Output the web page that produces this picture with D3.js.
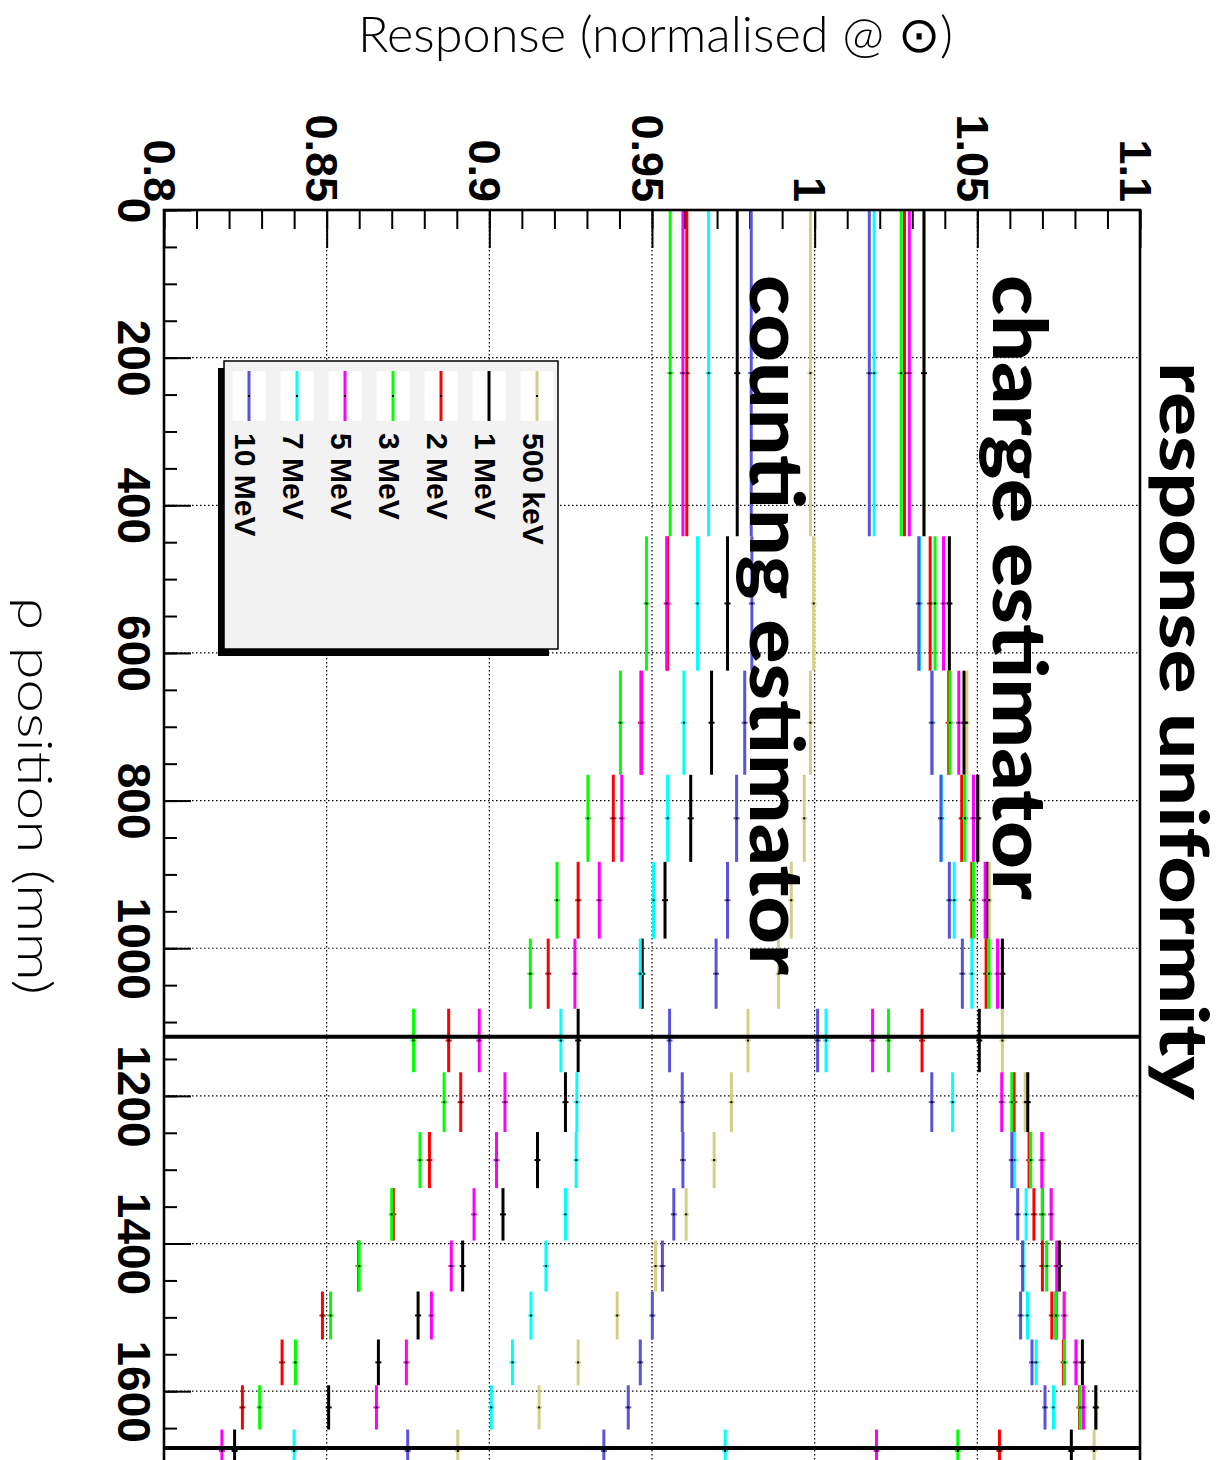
<!DOCTYPE html>
<html>
<head>
<meta charset="utf-8">
<style>
  body { margin: 0; background: #fff; }
  svg { display: block; }
</style>
</head>
<body>
<script src="https://d3js.org/d3.v7.min.js"></script>
<script>
// rho bins (mm), equal-volume binning
var rhoEdges = [0, 442, 624, 765, 883, 987, 1082, 1168, 1249, 1325, 1396, 1465, 1530, 1592, 1652, 1710];
var rhoTicks = [0, 200, 400, 600, 800, 1000, 1200, 1400, 1600];
var respTicks = [0.8, 0.85, 0.9, 0.95, 1.0, 1.05, 1.1];
var rhoLines = [1120, 1677];

var energies = ["500 keV", "1 MeV", "2 MeV", "3 MeV", "5 MeV", "7 MeV", "10 MeV"];
var colors = ["#d4cf87", "#000000", "#ff0000", "#00ff00", "#ff00ff", "#00ffff", "#5954d9"];

// charge estimator
var charge500keV = [1.0336, 1.0414, 1.0468, 1.0505, 1.0537, 1.0577, 1.0577, 1.0647, 1.0703, 1.0727, 1.0752, 1.0767, 1.0805, 1.0867, 1.0859];
var charge1MeV   = [1.0336, 1.0414, 1.0459, 1.0501, 1.0529, 1.0577, 1.0506, 1.0655, 1.0662, 1.0700, 1.0752, 1.0742, 1.0823, 1.0864, 1.0789];
var charge2MeV   = [1.0276, 1.0355, 1.0412, 1.0452, 1.0483, 1.0527, 1.0330, 1.0613, 1.0659, 1.0674, 1.0700, 1.0729, 1.0765, 1.0814, 1.0568];
var charge3MeV   = [1.0266, 1.0370, 1.0416, 1.0462, 1.0488, 1.0536, 1.0227, 1.0606, 1.0664, 1.0700, 1.0713, 1.0742, 1.0768, 1.0816, 1.0440];
var charge5MeV   = [1.0291, 1.0396, 1.0443, 1.0488, 1.0524, 1.0562, 1.0178, 1.0575, 1.0698, 1.0727, 1.0744, 1.0767, 1.0803, 1.0826, 1.0190];
var charge7MeV   = [1.0183, 1.0323, 1.0362, 1.0390, 1.0429, 1.0483, 1.0035, 1.0424, 1.0614, 1.0650, 1.0641, 1.0654, 1.0681, 1.0734, 0.9725];
var charge10MeV  = [1.0168, 1.0320, 1.0360, 1.0388, 1.0414, 1.0454, 1.0009, 1.0360, 1.0606, 1.0624, 1.0639, 1.0633, 1.0668, 1.0708, 0.9352];

// counting estimator
var count500keV = [0.9987, 0.9997, 0.9987, 0.9968, 0.9928, 0.9889, 0.9795, 0.9744, 0.9691, 0.9605, 0.9511, 0.9393, 0.9273, 0.9153, 0.8903];
var count1MeV   = [0.9762, 0.9732, 0.9683, 0.9619, 0.9540, 0.9470, 0.9273, 0.9234, 0.9148, 0.9042, 0.8918, 0.8781, 0.8659, 0.8506, 0.8217];
var count2MeV   = [0.9607, 0.9548, 0.9466, 0.9381, 0.9273, 0.9181, 0.8875, 0.8912, 0.8816, 0.8705, 0.8598, 0.8487, 0.8363, 0.8241, 0.7900];
var count3MeV   = [0.9556, 0.9483, 0.9403, 0.9303, 0.9208, 0.9126, 0.8767, 0.8861, 0.8787, 0.8700, 0.8600, 0.8512, 0.8404, 0.8294, 0.7950];
var count5MeV   = [0.9595, 0.9545, 0.9468, 0.9407, 0.9338, 0.9263, 0.8969, 0.9048, 0.9022, 0.8953, 0.8883, 0.8822, 0.8745, 0.8653, 0.8178];
var count7MeV   = [0.9674, 0.9640, 0.9598, 0.9548, 0.9505, 0.9464, 0.9220, 0.9269, 0.9267, 0.9234, 0.9174, 0.9128, 0.9071, 0.9006, 0.8400];
var count10MeV  = [0.9805, 0.9807, 0.9785, 0.9760, 0.9732, 0.9697, 0.9554, 0.9593, 0.9595, 0.9567, 0.9532, 0.9501, 0.9464, 0.9427, 0.8749];

var chargeSets = [charge500keV, charge1MeV, charge2MeV, charge3MeV, charge5MeV, charge7MeV, charge10MeV];
var countSets = [count500keV, count1MeV, count2MeV, count3MeV, count5MeV, count7MeV, count10MeV];

var width = 1228, height = 1460;
var svg = d3.select("body").append("svg")
    .attr("width", width)
    .attr("height", height);

svg.append("rect").attr("width", width).attr("height", height).attr("fill", "#fff");

var plot = {left: 164, right: 1140, top: 210, bottom: 1465};
var x = d3.scaleLinear().domain([0.8, 1.1]).range([plot.left, plot.right]);
var y = d3.scaleLinear().domain([0, 1700]).range([plot.top, plot.bottom]);

svg.append("clipPath").attr("id", "clip")
  .append("rect")
    .attr("x", plot.left).attr("y", plot.top)
    .attr("width", plot.right - plot.left).attr("height", plot.bottom - plot.top);

// grid
var grid = svg.append("g").attr("stroke", "#000").attr("stroke-width", 1.2).attr("stroke-dasharray", "1.5,2.5");
grid.selectAll("line.gx").data(respTicks.slice(1, -1)).enter().append("line")
    .attr("x1", function(d) { return x(d); }).attr("x2", function(d) { return x(d); })
    .attr("y1", plot.top).attr("y2", plot.bottom);
grid.selectAll("line.gy").data(rhoTicks.slice(1)).enter().append("line")
    .attr("y1", function(d) { return y(d); }).attr("y2", function(d) { return y(d); })
    .attr("x1", plot.left).attr("x2", plot.right);

// response axis (top, rotated labels)
var axTop = svg.append("g").attr("transform", "translate(0," + plot.top + ")");
axTop.append("g").call(d3.axisBottom(x).ticks(30).tickSize(19).tickFormat(""));
axTop.append("g").call(d3.axisBottom(x).tickValues(respTicks).tickSize(38)
    .tickFormat(function(d) { return +d.toFixed(2); }));
axTop.selectAll(".domain").remove();
axTop.selectAll(".tick line").attr("stroke", "#000").attr("stroke-width", 2);
axTop.selectAll(".tick text")
    .attr("transform", "rotate(90)")
    .attr("x", -8).attr("y", 21).attr("dy", 0)
    .attr("text-anchor", "end")
    .attr("font-family", "'Liberation Sans', Arial, sans-serif")
    .attr("font-weight", "bold")
    .attr("font-size", 45)
    .attr("fill", "#000");

// rho axis (left, rotated labels)
var axLeft = svg.append("g").attr("transform", "translate(" + plot.left + ",0)");
axLeft.append("g").call(d3.axisRight(y).ticks(34).tickSize(13).tickFormat(""));
axLeft.append("g").call(d3.axisRight(y).tickValues(rhoTicks).tickSize(27).tickFormat(d3.format("d")));
axLeft.selectAll(".domain").remove();
axLeft.selectAll(".tick line").attr("stroke", "#000").attr("stroke-width", 2);
axLeft.selectAll(".tick text")
    .attr("transform", "rotate(90)")
    .attr("x", 0).attr("y", 46).attr("dy", 0)
    .attr("text-anchor", "middle")
    .attr("font-family", "'Liberation Sans', Arial, sans-serif")
    .attr("font-weight", "bold")
    .attr("font-size", 46)
    .attr("fill", "#000");

// data: each point drawn as a bin-wide bar at its response value
var dataG = svg.append("g").attr("clip-path", "url(#clip)");
function drawSet(sets) {
  sets.forEach(function(vals, k) {
    var g = dataG.append("g");
    var pts = vals.map(function(v, j) { return {v: v, lo: rhoEdges[j], hi: rhoEdges[j + 1]}; });
    g.selectAll("line.bar").data(pts).enter().append("line")
        .attr("x1", function(d) { return x(d.v); }).attr("x2", function(d) { return x(d.v); })
        .attr("y1", function(d) { return y(d.lo); }).attr("y2", function(d) { return y(d.hi); })
        .attr("stroke", colors[k]).attr("stroke-width", 3);
    g.selectAll("line.err").data(pts).enter().append("line")
        .attr("x1", function(d) { return x(d.v) - 3; }).attr("x2", function(d) { return x(d.v) + 3; })
        .attr("y1", function(d) { return y((d.lo + d.hi) / 2); }).attr("y2", function(d) { return y((d.lo + d.hi) / 2); })
        .attr("stroke", colors[k]).attr("stroke-width", 2);
    g.selectAll("rect.dot").data(pts).enter().append("rect")
        .attr("x", function(d) { return x(d.v) - 1; })
        .attr("y", function(d) { return y((d.lo + d.hi) / 2) - 1; })
        .attr("width", 2).attr("height", 2).attr("fill", "#000");
  });
}
drawSet(countSets);
drawSet(chargeSets);

// thick reference lines
svg.selectAll("line.ref").data(rhoLines).enter().append("line")
    .attr("x1", plot.left).attr("x2", plot.right)
    .attr("y1", function(d) { return y(d); }).attr("y2", function(d) { return y(d); })
    .attr("stroke", "#000").attr("stroke-width", 4);

// frame
svg.append("rect")
    .attr("x", plot.left).attr("y", plot.top)
    .attr("width", plot.right - plot.left).attr("height", plot.bottom - plot.top + 20)
    .attr("fill", "none").attr("stroke", "#000").attr("stroke-width", 2.6);

// legend
var leg = svg.append("g");
leg.append("rect").attr("x", 218).attr("y", 368).attr("width", 331).attr("height", 288).attr("fill", "#000");
leg.append("rect").attr("x", 224).attr("y", 361).attr("width", 334).attr("height", 288)
    .attr("fill", "#f2f2f2").attr("stroke", "#000").attr("stroke-width", 1.5);
var entries = leg.selectAll("g.entry").data(energies).enter().append("g")
    .attr("transform", function(d, i) { return "translate(" + (537 - i * 48) + ",0)"; });
entries.append("rect").attr("x", -16.5).attr("y", 371).attr("width", 33).attr("height", 50).attr("fill", "#fff");
entries.append("line").attr("x1", 0).attr("x2", 0).attr("y1", 371).attr("y2", 421)
    .attr("stroke", function(d, i) { return colors[i]; }).attr("stroke-width", 3);
entries.append("rect").attr("x", -1).attr("y", 395).attr("width", 2).attr("height", 2).attr("fill", "#000");
entries.append("text")
    .attr("transform", "translate(-14,433) rotate(90)")
    .attr("font-family", "'Liberation Sans', Arial, sans-serif")
    .attr("font-weight", "bold")
    .attr("font-size", 30)
    .text(function(d) { return d; });

// big labels
function bigLabel(txt, bx, by, len, size) {
  svg.append("text")
      .attr("transform", "translate(" + bx + "," + by + ") rotate(90)")
      .attr("font-family", "Lato, 'Open Sans', sans-serif")
      .attr("font-weight", 900)
      .attr("font-size", size)
      .attr("textLength", len)
      .attr("lengthAdjust", "spacingAndGlyphs")
      .attr("fill", "#000")
      .text(txt);
}
bigLabel("response uniformity", 1160, 362, 738, 66);
bigLabel("charge estimator", 993, 275, 625, 74);
bigLabel("counting estimator", 750, 275, 700, 74);

// axis titles
svg.append("text")
    .attr("x", 358).attr("y", 52)
    .attr("font-family", "Lato, sans-serif")
    .attr("font-weight", 300)
    .attr("font-size", 50)
    .attr("textLength", 595)
    .attr("lengthAdjust", "spacingAndGlyphs")
    .text("Response (normalised @ \u2299)");

svg.append("text")
    .attr("transform", "translate(18,597) rotate(90)")
    .attr("font-family", "Lato, sans-serif")
    .attr("font-weight", 300)
    .attr("font-size", 48)
    .attr("textLength", 398)
    .attr("lengthAdjust", "spacingAndGlyphs")
    .text("\u03c1 position (mm)");
</script>
</body>
</html>
